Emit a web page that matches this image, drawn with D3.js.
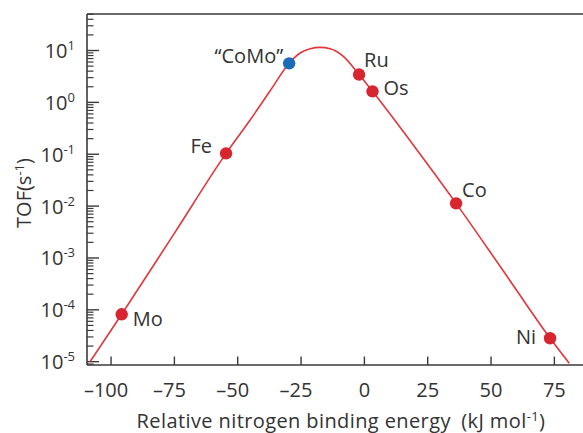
<!DOCTYPE html>
<html>
<head>
<meta charset="utf-8">
<script src="https://cdn.jsdelivr.net/npm/d3@7"></script>
<style>
  body { margin: 0; background: #fff; }
  svg { display: block; font-family: "Open Sans", "Noto Sans", sans-serif; }
  .lbl { fill: #333; }
</style>
</head>
<body>
<svg id="chart" width="583" height="433"></svg>
<script>
// metals on the volcano: relative N binding energy (kJ/mol) and TOF (1/s)
const metals = ["Mo", "Fe", "“CoMo”", "Ru", "Os", "Co", "Ni"];
const energies = [-95.8, -54.6, -29.7, -2.1, 3.2, 36.2, 73.3];
const tofs = [8.2e-5, 0.104, 5.66, 3.44, 1.63, 0.0113, 2.83e-5];

// volcano curve
const curveEnergy = [-108.3, -95.8, -75.1, -54.6, -45.1, -37.2, -29.7, -25.4, -21.4, -17.5, -13.5, -8.3, -2.1, 3.2, 19.3, 36.2, 54.8, 73.3, 80.9];
const curveTof = [1.0e-5, 8.2e-5, 2.95e-3, 0.104, 0.457, 1.67, 5.66, 8.95, 10.8, 11.5, 10.8, 7.73, 3.44, 1.63, 0.151, 0.0113, 5.66e-4, 2.83e-5, 9.3e-6];

const xTicks = [-100, -75, -50, -25, 0, 25, 50, 75];
const yTicks = [1e-5, 1e-4, 1e-3, 1e-2, 1e-1, 1e0, 1e1];

const svg = d3.select("#chart");
const mLeft = 87, mRight = 583, mTop = 14, mBottom = 365;

const x = d3.scaleLinear().domain([-109.5, 86.3]).range([mLeft, mRight]);
const y = d3.scaleLog().domain([Math.pow(10, -5.064), Math.pow(10, 1.704)]).range([mBottom, mTop]);

const axisColor = "#3a3a3a";

// frame: top line, left axis, bottom axis
svg.append("line").attr("x1", mLeft).attr("x2", mRight).attr("y1", mTop).attr("y2", mTop)
  .attr("stroke", axisColor).attr("stroke-width", 1.6);

// y axis with log minor ticks pointing inwards
const yMinor = y.ticks().filter(t => !yTicks.some(m => Math.abs(Math.log10(t) - Math.log10(m)) < 1e-9));
const yAxis = svg.append("g").attr("transform", `translate(${mLeft},0)`);
yAxis.append("line").attr("x1", 0).attr("x2", 0).attr("y1", mTop).attr("y2", mBottom)
  .attr("stroke", axisColor).attr("stroke-width", 1.6);
yAxis.selectAll(".minor").data(yMinor).enter().append("line")
  .attr("x1", 0).attr("x2", 6.5)
  .attr("y1", d => y(d)).attr("y2", d => y(d))
  .attr("stroke", axisColor).attr("stroke-width", 1.2);
yAxis.selectAll(".major").data(yTicks).enter().append("line")
  .attr("x1", 0).attr("x2", 12)
  .attr("y1", d => y(d)).attr("y2", d => y(d))
  .attr("stroke", axisColor).attr("stroke-width", 1.4);

const yLab = yAxis.selectAll(".ylab").data(yTicks).enter().append("text")
  .attr("class", "lbl")
  .attr("x", -12).attr("y", d => y(d) + 7.5)
  .attr("text-anchor", "end")
  .style("font-size", "20px");
yLab.append("tspan").text("10");
yLab.append("tspan").attr("dy", -8).style("font-size", "13px")
  .text(d => String(Math.round(Math.log10(d))));

// x axis
const xAxis = svg.append("g").attr("transform", `translate(0,${mBottom})`);
xAxis.append("line").attr("x1", mLeft).attr("x2", mRight).attr("y1", 0).attr("y2", 0)
  .attr("stroke", axisColor).attr("stroke-width", 1.6);
xAxis.selectAll(".xt").data(xTicks).enter().append("line")
  .attr("x1", d => x(d)).attr("x2", d => x(d))
  .attr("y1", 0).attr("y2", -8.5)
  .attr("stroke", axisColor).attr("stroke-width", 1.4);
xAxis.selectAll(".xl").data(xTicks).enter().append("text")
  .attr("class", "lbl")
  .attr("x", d => x(d)).attr("y", 32)
  .attr("dx", d => d < 0 ? -5 : 0)
  .attr("text-anchor", "middle")
  .style("font-size", "20px")
  .text(d => d < 0 ? "–" + Math.abs(d) : String(d));

// axis titles
const xt = svg.append("text").attr("class", "lbl")
  .attr("x", 341).attr("y", 428)
  .attr("text-anchor", "middle")
  .style("font-size", "20px")
  .style("letter-spacing", "0.4px");
xt.append("tspan").text("Relative nitrogen binding energy\u2002(kJ mol");
xt.append("tspan").attr("dy", -7).style("font-size", "13px").text("-1");
xt.append("tspan").attr("dy", 7).text(")");

const yt = svg.append("text").attr("class", "lbl")
  .attr("transform", "translate(31,193) rotate(-90)")
  .attr("text-anchor", "middle")
  .style("font-size", "20px");
yt.append("tspan").text("TOF(s");
yt.append("tspan").attr("dy", -7).style("font-size", "13px").text("-1");
yt.append("tspan").attr("dy", 7).text(")");

// volcano curve
const curve = curveEnergy.map((e, i) => [e, curveTof[i]]);
svg.append("path")
  .datum(curve)
  .attr("fill", "none")
  .attr("stroke", "#e2363c")
  .attr("stroke-width", 1.6)
  .attr("d", d3.line().x(d => x(d[0])).y(d => y(d[1])).curve(d3.curveMonotoneX));

// points
const pts = metals.map((m, i) => ({ name: m, e: energies[i], tof: tofs[i] }));
svg.selectAll(".pt").data(pts).enter().append("circle")
  .attr("cx", d => x(d.e)).attr("cy", d => y(d.tof)).attr("r", 6.2)
  .attr("fill", d => d.name === "“CoMo”" ? "#1b6cb8" : "#d7262f");

// label placement relative to each point
const labelPos = {
  "Mo": [11, 12, "start"],
  "Fe": [-14, 0, "end"],
  "“CoMo”": [-6, 0, "end"],
  "Ru": [5, -8, "start"],
  "Os": [11, 4, "start"],
  "Co": [6, -6, "start"],
  "Ni": [-14, 6, "end"]
};
svg.selectAll(".pl").data(pts).enter().append("text")
  .attr("class", "lbl")
  .attr("x", d => x(d.e) + labelPos[d.name][0])
  .attr("y", d => y(d.tof) + labelPos[d.name][1])
  .attr("text-anchor", d => labelPos[d.name][2])
  .style("font-size", "20px")
  .text(d => d.name);
</script>
</body>
</html>
